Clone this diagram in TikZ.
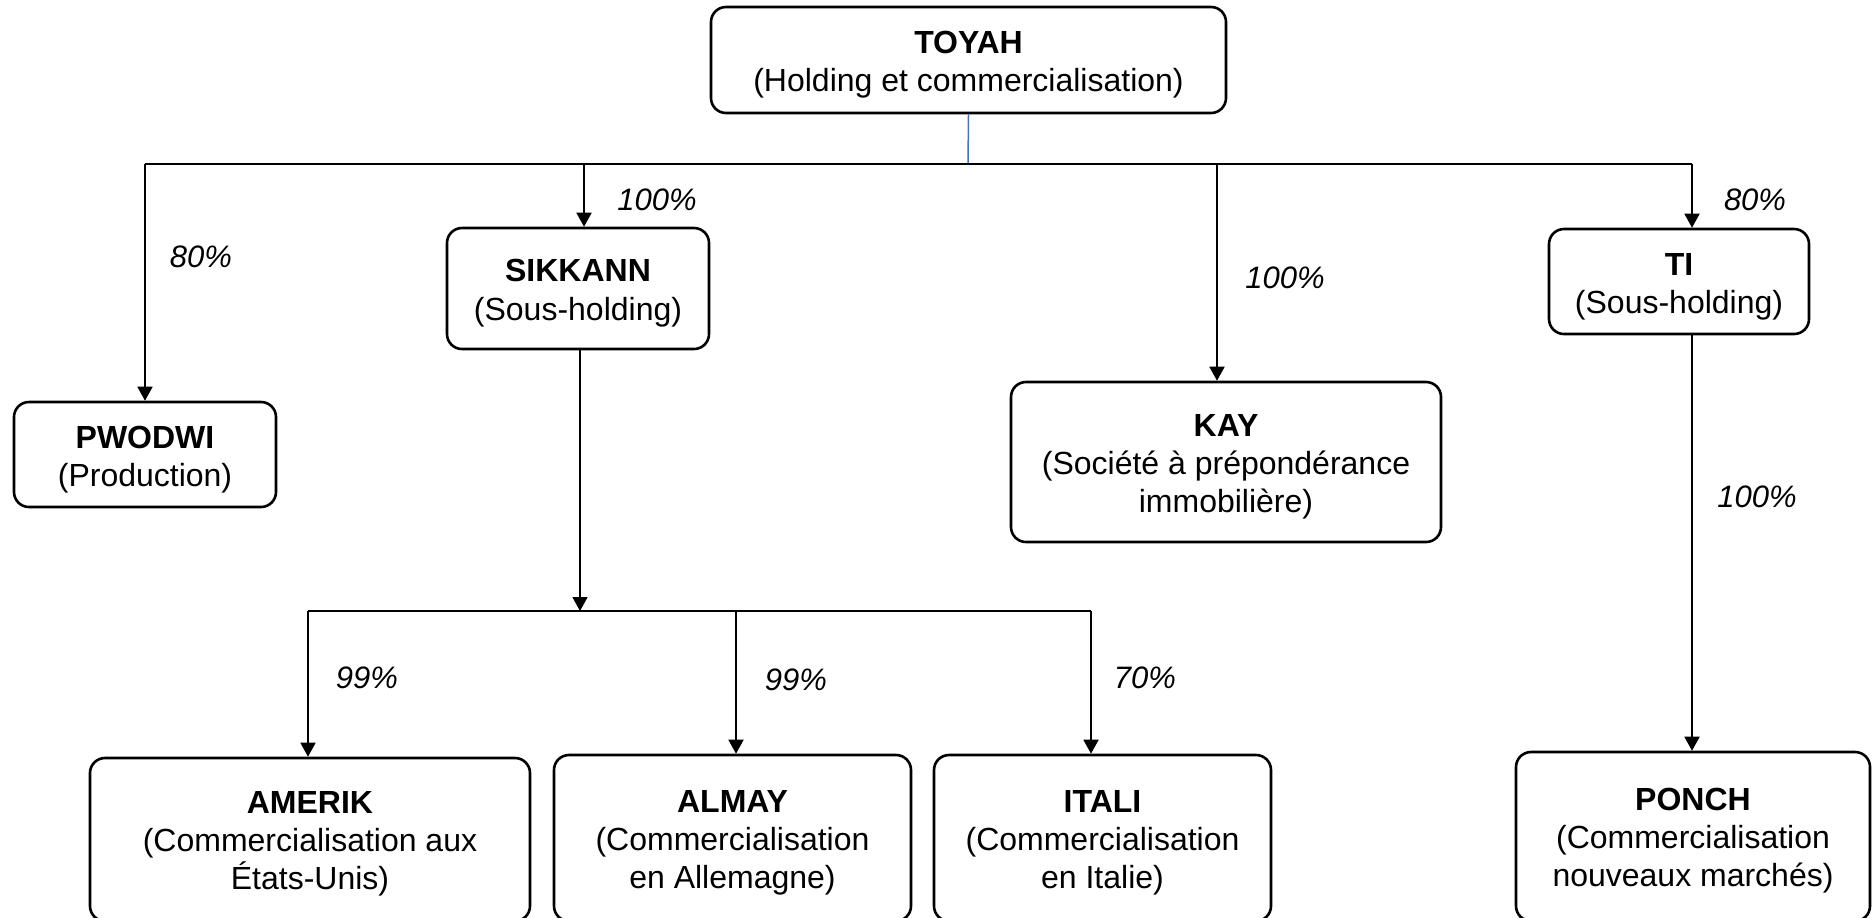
\documentclass[tikz,border=0pt]{standalone}
\usepackage{fontspec}
\setmainfont{Liberation Sans}
\usetikzlibrary{arrows.meta}
\definecolor{bluelink}{RGB}{68,114,196}
\newcommand{\upstrut}{\rule{0pt}{16pt}}
\newcommand{\lowstrut}{\rule{0pt}{15.5pt}}
\begin{document}
\begin{tikzpicture}[x=0.5pt,y=-0.5pt,
  entity/.style={draw, line width=1.3pt, rounded corners=7.5pt, align=center, inner sep=0pt, font=\fontsize{16pt}{19pt}\selectfont},
  lowentity/.style={entity, font=\fontsize{16pt}{19pt}\selectfont},
  link/.style={line width=0.9pt},
  arr/.style={link, -{Triangle[length=7pt,width=7.5pt]}},
  pct/.style={font=\fontsize{15.5pt}{18pt}\selectfont\itshape, inner sep=0pt}]
\useasboundingbox (0,0) rectangle (1872,917);
% boxes
\node[entity, minimum width=257.5pt, minimum height=53pt] (toyah) at (968.5,60) {\upstrut\textbf{TOYAH}\\(Holding et commercialisation)};
\node[entity, minimum width=131pt, minimum height=52.5pt] (pwodwi) at (145,454.5) {\upstrut\textbf{PWODWI}\\(Production)};
\node[entity, minimum width=131pt, minimum height=60.5pt, font=\fontsize{16pt}{19.7pt}\selectfont] (sik) at (578,288.5) {\upstrut\textbf{SIKKANN}\\(Sous-holding)};
\node[entity, minimum width=215pt, minimum height=80pt] (kay) at (1226,462) {\upstrut\textbf{KAY}\\(Société à prépondérance\\immobilière)};
\node[entity, minimum width=130pt, minimum height=52.5pt] (ti) at (1679,281.5) {\upstrut\textbf{TI}\\(Sous-holding)};
\node[lowentity, minimum width=220pt, minimum height=81.5pt] (amerik) at (310,839.5) {\lowstrut\textbf{AMERIK}\\(Commercialisation aux\\États-Unis)};
\node[lowentity, minimum width=178.5pt, minimum height=83pt] (almay) at (732.5,838) {\lowstrut\textbf{ALMAY}\\(Commercialisation\\en Allemagne)};
\node[lowentity, minimum width=168.5pt, minimum height=83pt] (itali) at (1102.5,838) {\lowstrut\textbf{ITALI}\\(Commercialisation\\en Italie)};
\node[lowentity, minimum width=177pt, minimum height=84.5pt] (ponch) at (1693,836.5) {\lowstrut\textbf{PONCH}\\(Commercialisation\\nouveaux marchés)};
% top bus
\coordinate (bus) at (968,164);
\coordinate (bL) at (145,164);
\coordinate (bS) at (584,164);
\coordinate (bK) at (1217,164);
\coordinate (bR) at (1692,164);
\draw[bluelink, line width=0.75pt] (toyah.south) -- (bus);
\draw[link] (bL) -- (bR);
\draw[arr] (bL) -- (bL |- pwodwi.north);
\draw[arr] (bS) -- (bS |- sik.north);
\draw[arr] (bK) -- (bK |- kay.north);
\draw[arr] (bR) -- (bR |- ti.north);
% lower bus
\coordinate (lbus) at (580,611);
\coordinate (lL) at (308,611);
\coordinate (lM) at (736,611);
\coordinate (lR) at (1091,611);
\draw[arr] (lbus |- sik.south) -- (lbus);
\draw[link] (lL) -- (lR);
\draw[arr] (lL) -- (lL |- amerik.north);
\draw[arr] (lM) -- (lM |- almay.north);
\draw[arr] (lR) -- (lR |- itali.north);
\draw[arr] (bR |- ti.south) -- (bR |- ponch.north);
% percentages
\node[pct] (p1) at (201,257) {80\%};
\node[pct] (p2) at (657,200) {100\%};
\node[pct] (p3) at (1285,278) {100\%};
\node[pct] (p4) at (1755,200) {80\%};
\node[pct] (p5) at (1757,497) {100\%};
\node[pct] (p6) at (367,678) {99\%};
\node[pct] (p7) at (796,680) {99\%};
\node[pct] (p8) at (1145,678) {70\%};
\end{tikzpicture}
\end{document}
